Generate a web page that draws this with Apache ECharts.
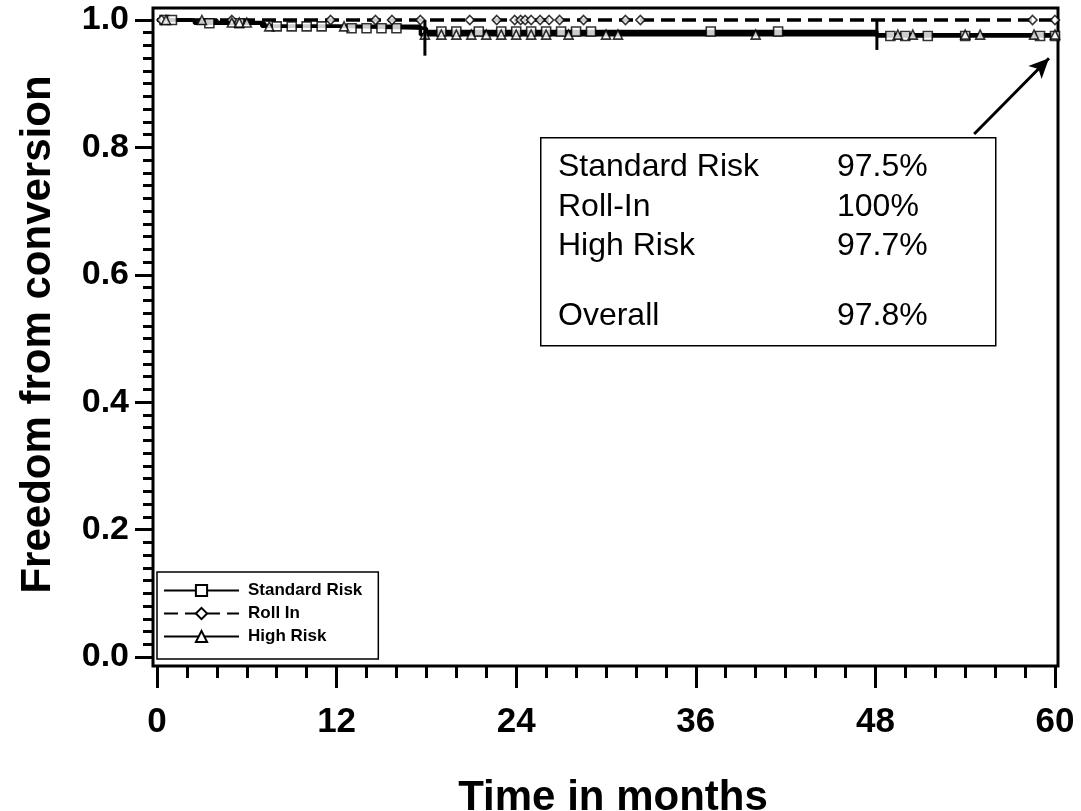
<!DOCTYPE html>
<html>
<head>
<meta charset="utf-8">
<script src="https://cdn.jsdelivr.net/npm/echarts@6/dist/echarts.min.js"></script>
<style>
html,body{margin:0;padding:0;background:#fff;}
#chart{width:1081px;height:811px;}
</style>
</head>
<body>
<div id="chart"></div>
<script>
// ---- data ----
var seriesNames = ['Standard Risk', 'Roll In', 'High Risk'];
// Kaplan-Meier steps: [month, survival]
var stdSteps  = [[0, 1.0], [2.5, 0.995], [7.2, 0.99], [12, 0.987], [18, 0.982], [48.1, 0.975], [60, 0.975]];
var rollSteps = [[0, 1.0], [60, 1.0]];
var highSteps = [[0, 1.0], [4, 0.996], [7, 0.99], [17.6, 0.977], [60, 0.977]];
// censored observations: [month, survival]
var stdCensor = [[0.5, 1.0], [1, 1.0], [3.5, 0.995], [5.5, 0.995], [8, 0.99], [9, 0.99], [10, 0.99], [11, 0.99], [13, 0.987], [14, 0.987], [15, 0.987], [16, 0.987], [19, 0.982], [20, 0.982], [21.5, 0.982], [23, 0.982], [24, 0.982], [25, 0.982], [26, 0.982], [27, 0.982], [28, 0.982], [29, 0.982], [37, 0.982], [41.5, 0.982], [49, 0.975], [50, 0.975], [51.5, 0.975], [54, 0.975], [59, 0.975], [60, 0.975]];
var rollCensor = [[0.3, 1.0], [5, 1.0], [11.6, 1.0], [14.6, 1.0], [15.7, 1.0], [17.6, 1.0], [20.9, 1.0], [22.7, 1.0], [23.9, 1.0], [24.3, 1.0], [24.6, 1.0], [25, 1.0], [25.6, 1.0], [26.2, 1.0], [26.9, 1.0], [28.5, 1.0], [31.3, 1.0], [32.3, 1.0], [58.5, 1.0], [60, 1.0]];
var highCensor = [[0.6, 1.0], [3, 1.0], [5, 0.996], [5.5, 0.996], [6, 0.996], [7.5, 0.99], [12.5, 0.99], [17.9, 0.977], [19, 0.977], [20, 0.977], [21, 0.977], [22, 0.977], [23, 0.977], [24, 0.977], [25, 0.977], [26, 0.977], [27.5, 0.977], [30, 0.977], [30.8, 0.977], [40, 0.977], [49.5, 0.977], [50.5, 0.977], [54, 0.977], [55, 0.977], [58.6, 0.977], [60, 0.977]];
// long vertical marks: [month, low, high]
var dropMarks = [[17.9, 0.944, 1.0], [48.1, 0.953, 1.0]];
// annotation
var annLabels = ['Standard Risk', 'Roll-In', 'High Risk', 'Overall'];
var annValues = ['97.5%', '100%', '97.7%', '97.8%'];
var arrowFrom = [54.6, 0.821];
var arrowTo = [59.6, 0.94];
var xTicks = {min: 0, max: 60, interval: 12};
var yTicks = {min: 0, max: 1, interval: 0.2};

// ---- chart ----
var FONT = '"Liberation Sans", Arial, Helvetica, sans-serif';
var chart = echarts.init(document.getElementById('chart'), null, {renderer: 'canvas'});
var symbolStyle = {color: '#fff', borderColor: '#000', borderWidth: 1.6};

function lineSeries(name, steps, symbol, dashed) {
  return {
    name: name, type: 'line', step: 'end', data: steps,
    xAxisIndex: 0, yAxisIndex: 0,
    symbol: symbol, symbolSize: 9, showSymbol: false,
    clip: false, z: 3,
    itemStyle: symbolStyle,
    lineStyle: {color: '#000', width: 3.5, type: dashed ? [14, 7] : 'solid'},
    emphasis: {disabled: true}
  };
}
function censorSeries(name, pts, symbol) {
  return {
    name: name, type: 'scatter', data: pts, symbol: symbol, symbolSize: 9,
    xAxisIndex: 0, yAxisIndex: 0,
    clip: false, z: 4, itemStyle: symbolStyle, emphasis: {disabled: true}
  };
}

var rowY = [167, 207, 246, 316];
var annGraphics = [{
  type: 'rect', left: 540, top: 137, z: 10,
  shape: {width: 455, height: 208},
  style: {fill: '#fff', stroke: '#000', lineWidth: 1.5}
}];
for (var i = 0; i < annLabels.length; i++) {
  annGraphics.push({type: 'text', x: 558, y: rowY[i], z: 11,
    style: {text: annLabels[i], font: '32px ' + FONT, fill: '#000', verticalAlign: 'middle'}});
  annGraphics.push({type: 'text', x: 837, y: rowY[i], z: 11,
    style: {text: annValues[i], font: '32px ' + FONT, fill: '#000', verticalAlign: 'middle'}});
}

var tickStyle = {color: '#000', width: 3};
var hiddenAxis = {type: 'value', show: false, min: 0, max: 1, axisLine: {onZero: false}};
var gridBase = {containLabel: false, outerBoundsMode: 'none', show: false};
var option = {
  backgroundColor: '#fff',
  animation: false,
  grid: [
    // data area
    Object.assign({left: 157, right: 26, top: 20, bottom: 154}, gridBase),
    // plot frame
    Object.assign({}, gridBase, {left: 153, right: 23, top: 8, bottom: 145, show: true, borderColor: '#000', borderWidth: 3, backgroundColor: 'transparent'}),
    // x-axis band (same horizontal mapping, axis on frame bottom)
    Object.assign({left: 157, right: 26, top: 20, bottom: 145}, gridBase),
    // y-axis band (same vertical mapping, axis on frame left)
    Object.assign({left: 153, right: 26, top: 20, bottom: 154}, gridBase)
  ],
  legend: {
    data: seriesNames,
    orient: 'vertical', left: 157, top: 572,
    itemWidth: 75, itemHeight: 14, itemGap: 6,
    padding: [10, 16, 14, 6],
    borderColor: '#000', borderWidth: 1.5, backgroundColor: '#fff',
    textStyle: {fontFamily: FONT, fontWeight: 'bold', fontSize: 17, color: '#000', padding: [0, 0, 0, 4]},
    selectedMode: false
  },
  xAxis: [
    {type: 'value', gridIndex: 0, show: false, min: xTicks.min, max: xTicks.max, axisLine: {onZero: false}},
    Object.assign({gridIndex: 1}, hiddenAxis),
    {
      type: 'value', gridIndex: 2, position: 'bottom',
      min: xTicks.min, max: xTicks.max, interval: xTicks.interval,
      axisLine: {show: false, onZero: false},
      axisTick: {show: true, inside: false, length: 22, lineStyle: tickStyle},
      minorTick: {show: true, splitNumber: 6, length: 12, lineStyle: tickStyle},
      splitLine: {show: false},
      axisLabel: {margin: 39, fontFamily: FONT, fontWeight: 'bold', fontSize: 35, color: '#000'},
      name: 'Time in months', nameLocation: 'middle', nameGap: 111,
      nameTextStyle: {fontFamily: FONT, fontWeight: 'bold', fontSize: 42, color: '#000', padding: [0, 0, 0, 14]}
    },
    Object.assign({gridIndex: 3}, hiddenAxis)
  ],
  yAxis: [
    {type: 'value', gridIndex: 0, show: false, min: yTicks.min, max: yTicks.max, axisLine: {onZero: false}},
    Object.assign({gridIndex: 1}, hiddenAxis),
    Object.assign({gridIndex: 2}, hiddenAxis),
    {
      type: 'value', gridIndex: 3, position: 'left',
      min: yTicks.min, max: yTicks.max, interval: yTicks.interval,
      axisLine: {show: false, onZero: false},
      axisTick: {show: true, inside: false, length: 18, lineStyle: tickStyle},
      minorTick: {show: true, splitNumber: 10, length: 10, lineStyle: tickStyle},
      splitLine: {show: false},
      axisLabel: {margin: 24, fontFamily: FONT, fontWeight: 'bold', fontSize: 34, color: '#000',
        formatter: function (v) { return v.toFixed(1); }},
      name: 'Freedom from conversion', nameLocation: 'middle', nameGap: 94,
      nameTextStyle: {fontFamily: FONT, fontWeight: 'bold', fontSize: 42, color: '#000', padding: [0, 0, 0, 8]}
    }
  ],
  series: [
    lineSeries('Standard Risk', stdSteps, 'rect', false),
    lineSeries('Roll In', rollSteps, 'diamond', true),
    lineSeries('High Risk', highSteps, 'triangle', false),
    censorSeries('Standard Risk', stdCensor, 'rect'),
    censorSeries('Roll In', rollCensor, 'diamond'),
    censorSeries('High Risk', highCensor, 'triangle'),
    {
      type: 'custom', data: dropMarks, encode: {x: 0, y: [1, 2]}, clip: false, z: 5,
      xAxisIndex: 0, yAxisIndex: 0,
      renderItem: function (params, api) {
        var p1 = api.coord([api.value(0), api.value(1)]);
        var p2 = api.coord([api.value(0), api.value(2)]);
        return {type: 'line', shape: {x1: p1[0], y1: p1[1], x2: p2[0], y2: p2[1]},
          style: {stroke: '#000', lineWidth: 3}};
      },
      markLine: {
        silent: true, symbol: ['none', 'arrow'], symbolSize: [14, 20],
        lineStyle: {color: '#000', width: 3, type: 'solid'},
        label: {show: false},
        data: [[{coord: arrowFrom}, {coord: arrowTo}]]
      }
    }
  ],
  graphic: annGraphics
};
chart.setOption(option);
</script>
</body>
</html>
